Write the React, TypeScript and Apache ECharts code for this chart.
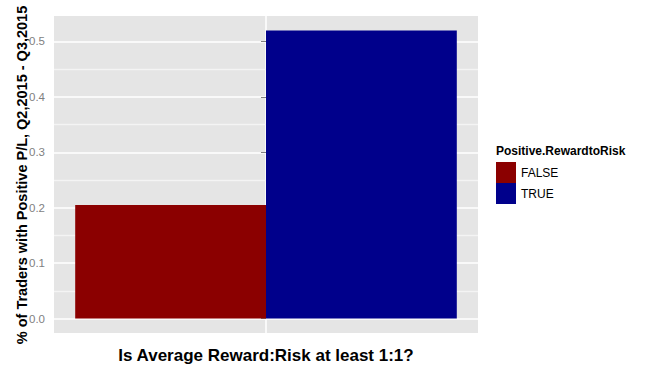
import React, { useEffect, useRef } from 'react';
import * as echarts from 'echarts';

const categories = [''];
const seriesNames = ['FALSE', 'TRUE'];
const falseValues = [0.205];
const trueValues = [0.52];
const yTickValues = [0, 0.1, 0.2, 0.3, 0.4, 0.5];
const yMinorValues = [0.05, 0.15, 0.25, 0.35, 0.45];
const yMin = -0.026;
const yMax = 0.546;
const xTitle = 'Is Average Reward:Risk at least 1:1?';
const yTitle = '% of Traders with Positive P/L, Q2,2015 - Q3,2015';
const legendTitle = 'Positive.RewardtoRisk';
const colors = ['#8B0000', '#00008B'];

const FONT = "'Liberation Sans', Arial, sans-serif";

export default function App() {
  const ref = useRef<HTMLDivElement>(null);
  useEffect(() => {
    if (!ref.current) return;
    const chart = echarts.init(ref.current, undefined, { renderer: 'svg' });
    chart.setOption({
      animation: false,
      backgroundColor: '#FFFFFF',
      textStyle: { fontFamily: FONT },
      title: {
        text: legendTitle,
        left: 496,
        top: 145,
        padding: 0,
        textStyle: { fontFamily: FONT, fontSize: 12, fontWeight: 'bold', color: '#000000' },
      },
      legend: {
        data: seriesNames,
        orient: 'vertical',
        left: 496,
        top: 162,
        padding: 0,
        itemGap: 0,
        itemWidth: 20,
        itemHeight: 21,
        icon: 'rect',
        textStyle: { fontFamily: FONT, fontSize: 12, color: '#000000' },
      },
      graphic: [
        {
          type: 'text',
          x: 21.5,
          y: 175,
          rotation: Math.PI / 2,
          silent: true,
          style: {
            text: yTitle,
            align: 'center',
            verticalAlign: 'middle',
            fontFamily: FONT,
            fontSize: 14.5,
            fontWeight: 'bold',
            fill: '#000000',
          },
        },
      ],
      grid: {
        left: 54,
        right: 182,
        top: 16,
        bottom: 39,
        show: true,
        backgroundColor: '#E5E5E5',
        borderWidth: 0,
        containLabel: false,
        outerBoundsMode: 'none',
      },
      xAxis: [
        {
          type: 'category',
          data: categories,
          boundaryGap: true,
          axisLine: { show: false },
          axisTick: { show: false },
          axisLabel: { show: false },
          splitLine: { show: false },
          name: xTitle,
          nameLocation: 'middle',
          nameGap: 14,
          nameTextStyle: { fontFamily: FONT, fontSize: 17, fontWeight: 'bold', color: '#000000' },
        },
        {
          type: 'value',
          min: -0.6,
          max: 0.6,
          interval: 0.6,
          position: 'bottom',
          axisLine: { show: false },
          axisTick: { show: false },
          axisLabel: { show: false },
          splitLine: { show: true, showMinLine: false, showMaxLine: false, lineStyle: { color: '#FFFFFF', width: 1.5 } },
        },
      ],
      yAxis: [
        {
          type: 'value',
          min: yMin,
          max: yMax,
          axisLine: { show: false },
          axisTick: { show: true, length: 5, customValues: yTickValues, lineStyle: { color: '#7F7F7F' } },
          axisLabel: {
            customValues: yTickValues,
            margin: 9,
            fontFamily: FONT,
            fontSize: 11.5,
            color: '#7F7F7F',
            formatter: (v: number) => v.toFixed(1),
          },
          splitLine: { show: true, lineStyle: { color: '#FFFFFF', width: 1.5 } },
        },
      ],
      series: [
        {
          name: seriesNames[0],
          type: 'bar',
          xAxisIndex: 0,
          yAxisIndex: 0,
          data: falseValues,
          barWidth: '45%',
          barGap: '0%',
          itemStyle: { color: colors[0] },
          z: 3,
          markLine: {
            silent: true,
            z: 1,
            symbol: ['none', 'none'],
            label: { show: false },
            lineStyle: { color: '#F4F4F4', width: 1.3, type: 'solid' },
            emphasis: { disabled: true },
            data: yMinorValues.map((v) => ({ yAxis: v })),
          },
        },
        {
          name: seriesNames[1],
          type: 'bar',
          xAxisIndex: 0,
          yAxisIndex: 0,
          data: trueValues,
          barWidth: '45%',
          barGap: '0%',
          itemStyle: { color: colors[1] },
          z: 3,
        },
      ],
    });
    return () => chart.dispose();
  }, []);
  return (
    <div
      ref={ref}
      style={{ position: 'fixed', left: 0, top: 0, width: 660, height: 372 }}
    />
  );
}
